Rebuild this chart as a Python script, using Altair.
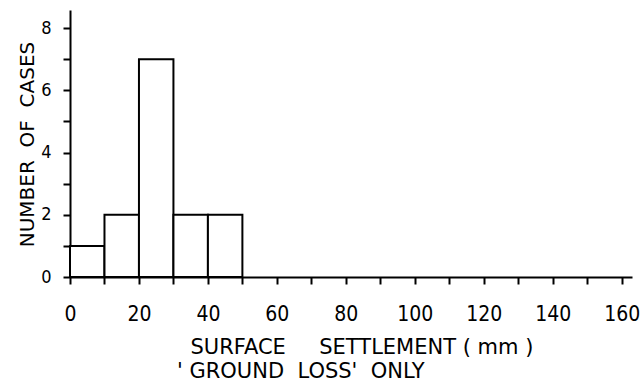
import altair as alt
import pandas as pd

bin_start = [0, 10, 20, 30, 40]
bin_end = [10, 20, 30, 40, 50]
cases = [1, 2, 7, 2, 2]

x_ticks = list(range(0, 161, 10))
y_ticks = list(range(0, 9))

x_title = "SURFACE\u00a0\u00a0\u00a0\u00a0\u00a0SETTLEMENT\u00a0(\u00a0mm\u00a0)"
x_subtitle = ["'\u00a0GROUND\u00a0\u00a0LOSS'\u00a0\u00a0ONLY"]
y_title = "NUMBER\u00a0\u00a0OF\u00a0\u00a0CASES"

df = pd.DataFrame({"start": bin_start, "end": bin_end, "cases": cases})
sub_df = pd.DataFrame({"t": x_subtitle})

LABEL_FONT = "DejaVu Sans Condensed, DejaVu Sans"
TITLE_FONT = "DejaVu Sans"

bars = alt.Chart(df).mark_bar(
    fill="white", stroke="black", strokeWidth=2
).encode(
    x=alt.X(
        "start:Q",
        scale=alt.Scale(domain=[0, 163], nice=False, zero=False),
        axis=alt.Axis(
            values=x_ticks,
            labelExpr="datum.value % 20 == 0 ? datum.label : ''",
            title=x_title,
            titleAlign="left",
            titleAnchor="start",
            titleX=120,
            titleY=59,
            titleBaseline="top",
            titleFontSize=21,
            labelPadding=19,
            labelFontSize=21,
            grid=False,
        ),
    ),
    x2="end:Q",
    y=alt.Y(
        "cases:Q",
        scale=alt.Scale(domain=[0, 8.58], nice=False),
        axis=alt.Axis(
            values=y_ticks,
            labelExpr="datum.value % 2 == 0 ? datum.label : ''",
            title=y_title,
            titleX=-33,
            titleY=134,
            titleAlign="center",
            titleFontSize=20,
            labelPadding=12,
            labelFontSize=18,
            grid=False,
        ),
    ),
    y2=alt.datum(0),
)

subtitle = alt.Chart(sub_df).mark_text(
    align="left", baseline="top", font=TITLE_FONT, fontSize=21, color="black"
).encode(
    x=alt.value(107),
    y=alt.value(351),
    text="t:N",
)

chart = alt.layer(bars, subtitle).properties(
    width=562,
    height=267,
    autosize=alt.AutoSizeParams(type="none"),
    padding={"left": 70, "top": 10, "right": 10, "bottom": 109},
).configure(
    background="white"
).configure_view(
    stroke=None
).configure_axis(
    domainColor="black",
    domainWidth=2,
    tickColor="black",
    tickWidth=2,
    tickSize=7,
    labelColor="black",
    titleColor="black",
    labelFont=LABEL_FONT,
    titleFont=TITLE_FONT,
    titleFontWeight="normal",
    labelFlush=False,
    labelOverlap=False,
)

chart.save("out.html", embed_options={"renderer": "svg", "actions": False})
